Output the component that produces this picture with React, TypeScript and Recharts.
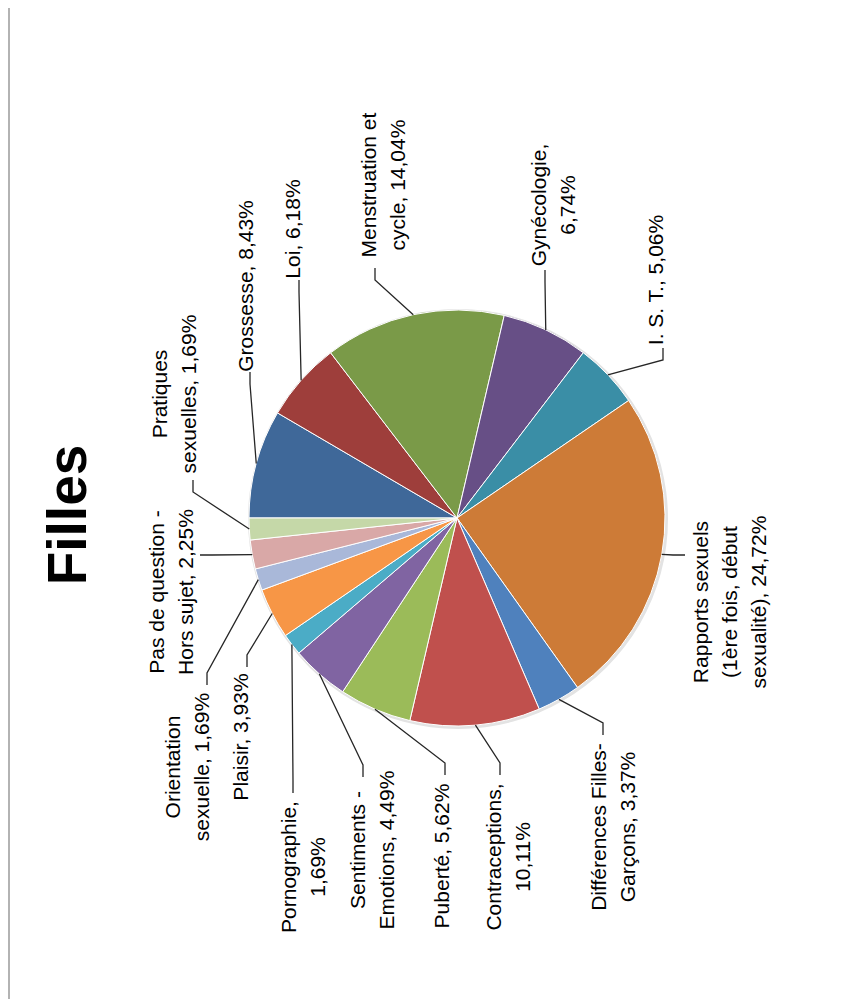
import React from 'react';
import { PieChart, Pie, Cell } from 'recharts';

// catégories, dans l'ordre du tracé (sens horaire depuis 9 h)
const CATEGORIES = [
  'Grossesse', 'Loi', 'Menstruation et cycle', 'Gynécologie', 'I. S. T.',
  'Rapports sexuels (1ère fois, début sexualité)', 'Différences Filles-Garçons',
  'Contraceptions', 'Puberté', 'Sentiments - Emotions', 'Pornographie', 'Plaisir',
  'Orientation sexuelle', 'Pas de question - Hors sujet', 'Pratiques sexuelles',
];

const VALUES = [8.43, 6.18, 14.04, 6.74, 5.06, 24.72, 3.37, 10.11, 5.62, 4.49, 1.69, 3.93, 1.69, 2.25, 1.69];

const LABEL_LINES = [
  ['Grossesse, 8,43%'],
  ['Loi, 6,18%'],
  ['Menstruation et', 'cycle, 14,04%'],
  ['Gynécologie,', '6,74%'],
  ['I. S. T., 5,06%'],
  ['Rapports sexuels', '(1ère fois, début', 'sexualité), 24,72%'],
  ['Différences Filles-', 'Garçons, 3,37%'],
  ['Contraceptions,', '10,11%'],
  ['Puberté, 5,62%'],
  ['Sentiments -', 'Emotions, 4,49%'],
  ['Pornographie,', '1,69%'],
  ['Plaisir, 3,93%'],
  ['Orientation', 'sexuelle, 1,69%'],
  ['Pas de question -', 'Hors sujet, 2,25%'],
  ['Pratiques', 'sexuelles, 1,69%'],
];

const COLORS = [
  '#3F6899', '#9E3E3B', '#7A9A48', '#674F86', '#3A8EA6', '#CD7B37', '#4F81BD',
  '#C0504D', '#9BBB59', '#8064A2', '#4BACC6', '#F79646', '#A9B8D9', '#D9A8A7', '#C5D8A8',
];

// placement des étiquettes (décalages par rapport au centre du camembert)
// t = centre du bloc de texte, a = point d'attache du trait, d = sens du coude
const LABEL_LAYOUT = [
  { tx: -212, ty: -232, ax: -207, ay: -146, d: 'v' },
  { tx: -165, ty: -289, ax: -158, ay: -238, d: 'v' },
  { tx: -75, ty: -333, ax: -82, ay: -250, d: 'v' },
  { tx: 95, ty: -313, ax: 88, ay: -248, d: 'v' },
  { tx: 198, ty: -238, ax: 206, ay: -170, d: 'v' },
  { tx: 272, ty: 84, ax: 228, ay: 37, d: 'h' },
  { tx: 155, ty: 309, ax: 146, ay: 217, d: 'v' },
  { tx: 50, ty: 339, ax: 43, ay: 257, d: 'v' },
  { tx: -16, ty: 338, ax: -12, ay: 257, d: 'v' },
  { tx: -86, ty: 332, ax: -94, ay: 259, d: 'v' },
  { tx: -155, ty: 349, ax: -164, ay: 275, d: 'v' },
  { tx: -217, ty: 219, ax: -210, ay: 149, d: 'v' },
  { tx: -271, ty: 249, ax: -250, ay: 167, d: 'v' },
  { tx: -287, ty: 74, ax: -257, ay: 37, d: 'h' },
  { tx: -284, ty: -124, ax: -264, ay: -38, d: 'v' },
];

const data = CATEGORIES.map((name, i) => ({ name, value: VALUES[i] }));

const FONT = '"Liberation Sans", Arial, sans-serif';
const RAD = Math.PI / 180;

const renderLabel = (props: any) => {
  const { cx, cy, midAngle, outerRadius, index } = props;
  const lay = LABEL_LAYOUT[index];
  const lines = LABEL_LINES[index];
  const px = cx + outerRadius * Math.cos(-midAngle * RAD);
  const py = cy + outerRadius * Math.sin(-midAngle * RAD);
  const ax = cx + lay.ax;
  const ay = cy + lay.ay;
  let ex = ax;
  let ey = ay;
  if (lay.d === 'v') ey = ay + Math.sign(py - ay) * 12;
  else ex = ax + Math.sign(px - ax) * 12;
  const tx = cx + lay.tx;
  const ty = cy + lay.ty;
  const n = lines.length;
  return (
    <g key={`lbl-${index}`}>
      <polyline
        points={`${ax},${ay} ${ex},${ey} ${px},${py}`}
        fill="none"
        stroke="#262626"
        strokeWidth={1.3}
      />
      <text
        transform={`rotate(-90 ${tx} ${ty})`}
        x={tx}
        y={ty}
        textAnchor="middle"
        dominantBaseline="central"
        fontSize={21}
        fontFamily={FONT}
        fill="#000"
      >
        {lines.map((l, i) => (
          <tspan key={i} x={tx} y={ty + (i - (n - 1) / 2) * 29}>
            {l}
          </tspan>
        ))}
      </text>
    </g>
  );
};

export default function App() {
  return (
    <div style={{ position: 'relative', margin: -8, width: 850, height: 1007, overflow: 'hidden', background: '#fff' }}>
      <div
        style={{
          position: 'absolute', left: 7, top: -10, width: 900, height: 1013,
          border: '3px solid #b3b3b3', boxSizing: 'border-box',
        }}
      />
      <div
        style={{
          position: 'absolute', left: 67 - 110, top: 515 - 40, width: 220, height: 80,
          lineHeight: '80px', textAlign: 'center', transform: 'rotate(-90deg)',
          fontFamily: FONT, fontWeight: 'bold', fontSize: 55, color: '#000',
        }}
      >
        Filles
      </div>
      <div style={{ position: 'absolute', left: 0, top: 0 }}>
        <PieChart width={850} height={1007} margin={{ top: 0, right: 0, bottom: 0, left: 0 }}>
          <Pie
            data={[{ value: 1 }]}
            dataKey="value"
            cx={458}
            cy={519}
            outerRadius={210}
            fill="#e3e3e3"
            stroke="none"
            isAnimationActive={false}
          />
          <Pie
            data={data}
            dataKey="value"
            nameKey="name"
            cx={457}
            cy={518}
            outerRadius={208}
            startAngle={180}
            endAngle={-180}
            stroke="#ffffff"
            strokeWidth={1}
            label={renderLabel}
            labelLine={false}
            isAnimationActive={false}
          >
            {data.map((d, i) => (
              <Cell key={d.name} fill={COLORS[i]} />
            ))}
          </Pie>
        </PieChart>
      </div>
    </div>
  );
}
